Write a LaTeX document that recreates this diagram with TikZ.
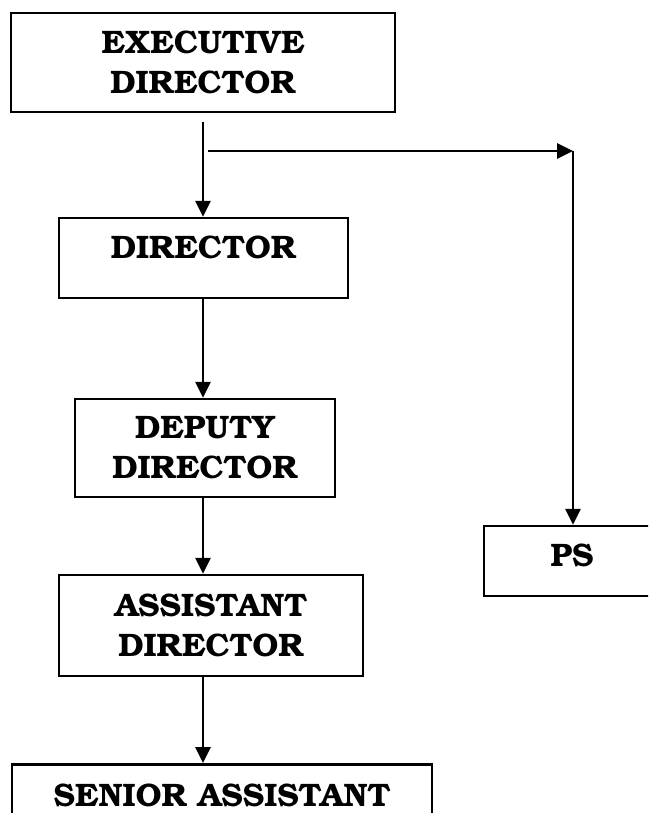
\documentclass[tikz,border=0pt]{standalone}
\usepackage[T1]{fontenc}
\usepackage{bookman}
\usetikzlibrary{arrows.meta}
\tikzset{
  box/.style={draw=black, line width=2.5pt, rectangle, inner sep=0pt, align=center,
    font=\fontsize{32.5}{40}\selectfont\bfseries},
  arr/.style={line width=2.8pt, -{Triangle[length=16pt,width=15pt]}},
}
\begin{document}
\begin{tikzpicture}[x=1pt,y=-1pt]
\useasboundingbox (0,0) rectangle (648,813);
\clip (0,0) rectangle (648,813);
\node[box, minimum width=384pt, minimum height=99pt] (ed) at (203,62.5) {EXECUTIVE\\DIRECTOR};
\node[box, minimum width=289pt, minimum height=80pt, text height=20pt, text depth=20pt] (dir) at (203.5,258) {DIRECTOR};
\node[box, minimum width=260pt, minimum height=98pt] (dep) at (205,448) {DEPUTY\\DIRECTOR};
\node[box, minimum width=304pt, minimum height=101pt] (asst) at (211,625.5) {ASSISTANT\\DIRECTOR};
\node[box, anchor=north, minimum width=420pt, text height=20pt, text depth=60pt, inner ysep=22pt] (sen) at (222,763) {SENIOR ASSISTANT};
\node[box, minimum width=176pt, minimum height=70pt, text height=20pt, text depth=10pt] (ps) at (572,561) {PS};
\coordinate (edout) at (203,122);
\coordinate (h1) at (208,151);
\coordinate (h2) at (573,151);
\draw[arr] (edout) -- (edout |- dir.north);
\draw[arr] (h1) -- (h2);
\draw[arr] (h2) -- (h2 |- ps.north);
\draw[arr] (dir.south -| edout) -- (edout |- dep.north);
\draw[arr] (dep.south -| edout) -- (edout |- asst.north);
\draw[arr] (asst.south -| edout) -- (edout |- sen.north);
\end{tikzpicture}
\end{document}
